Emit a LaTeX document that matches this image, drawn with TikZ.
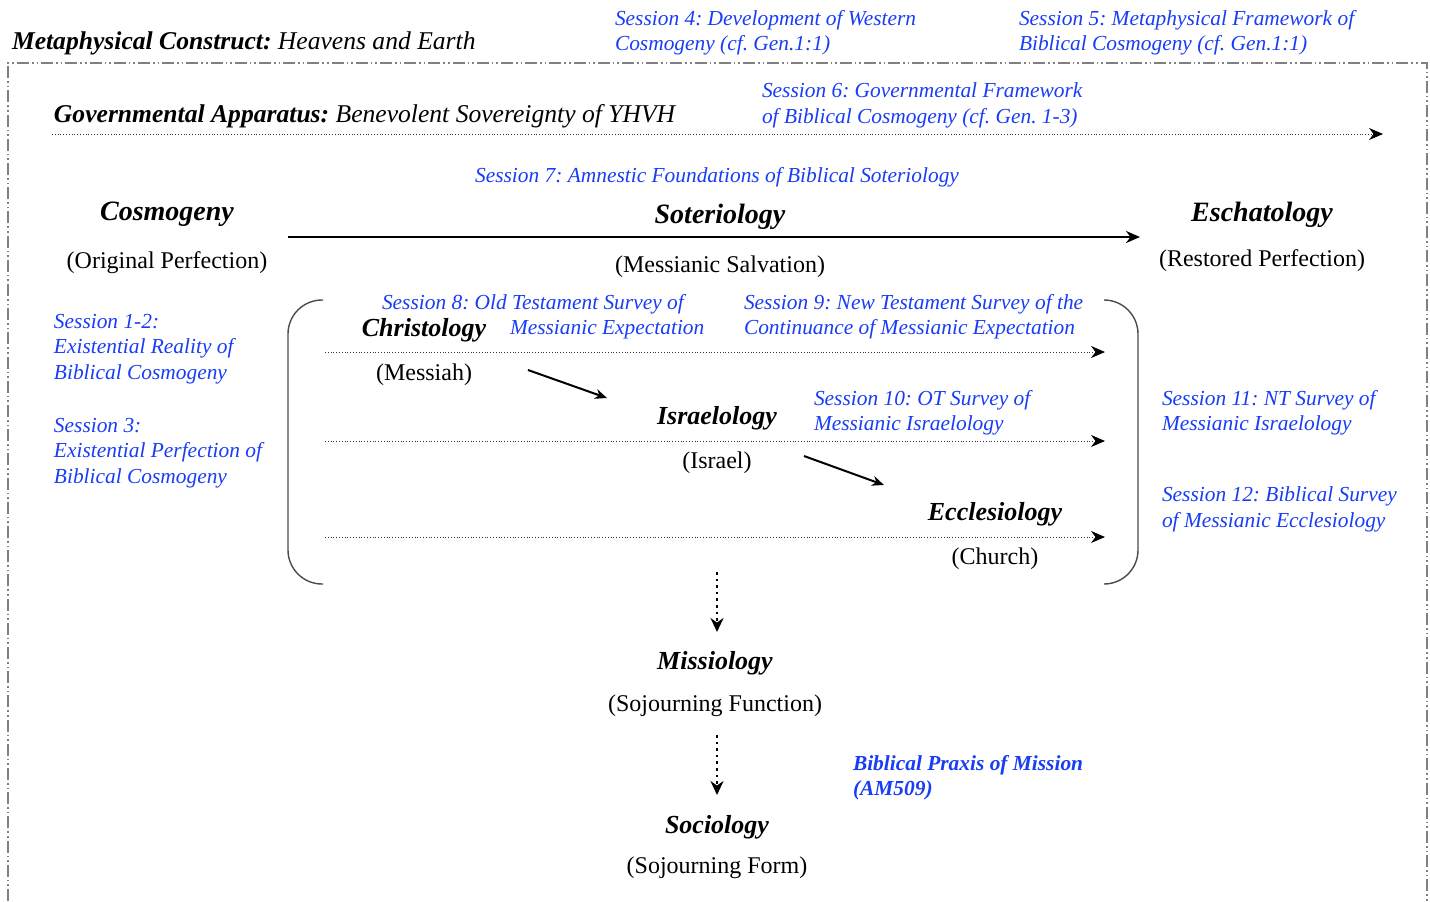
\documentclass[tikz,border=0pt]{standalone}
\usepackage{fontspec}
\setmainfont{Liberation Serif}
\usetikzlibrary{positioning,arrows.meta}
\definecolor{sessblue}{RGB}{25,60,245}
\frenchspacing
\tikzset{every node/.style={inner sep=0pt, outer sep=1pt}}
\tikzset{head/.style={font=\fontsize{14}{16}\selectfont\bfseries\itshape, yshift=-1.2pt}}
\tikzset{subhead/.style={font=\fontsize{13}{15}\selectfont\bfseries\itshape, yshift=-1.2pt}}
\tikzset{gloss/.style={font=\fontsize{12}{14}\selectfont}}
\tikzset{title/.style={font=\fontsize{12.8}{15}\selectfont\itshape, anchor=west, yshift=-1pt}}
\tikzset{sess/.style={font=\fontsize{10.7}{12.8}\selectfont\itshape, text=sessblue, align=left, anchor=north west}}
\tikzset{track/.style={densely dotted, gray!40!black, -{Stealth[length=7pt,width=6pt,black]}}}
\tikzset{drop/.style={line width=1.3pt, dash pattern=on 1.3pt off 2pt, -{Stealth[length=7pt,width=6.5pt]}}}
\tikzset{bracket/.style={gray!60!black, line width=0.7pt, rounded corners=17pt}}
\tikzset{frame/.style={gray, line width=0.6pt, dash pattern=on 6pt off 1.5pt on 0.8pt off 1.5pt on 0.8pt off 1.5pt}}

\begin{document}
\begin{tikzpicture}[x=0.5pt, y=-0.5pt, node distance = 22pt]
  \useasboundingbox (0,0) rectangle (1430,901);
  \draw[frame] (8,901) -- (8,63) -- (1427,63) -- (1427,901);

  \node (meta) [title] at (10,41) {\textbf{Metaphysical Construct:} Heavens and Earth};
  \node (s4) [sess] at (613,8) {Session 4: Development of Western\\Cosmogeny (cf. Gen.1:1)};
  \node (s5) [sess] at (1017,8) {Session 5: Metaphysical Framework of\\Biblical Cosmogeny (cf. Gen.1:1)};

  \node (gov) [title] at (52,114) {\textbf{Governmental Apparatus:} Benevolent Sovereignty of YHVH};
  \node (s6) [sess] at (760,81) {Session 6: Governmental Framework\\of Biblical Cosmogeny (cf. Gen. 1-3)};
  \coordinate (g1) at (52,134);
  \coordinate (g2) at (1383,134);
  \draw[track] (g1) -- (g2);

  \node (s7) [sess, anchor=center] at (717,177) {Session 7: Amnestic Foundations of Biblical Soteriology};
  \node (cos) [head] at (167,212) {Cosmogeny};
  \node (cosg) [gloss, below of = cos, node distance = 24pt] {(Original Perfection)};
  \node (sot) [head] at (720,214) {Soteriology};
  \node (sotg) [gloss, below of = sot, node distance = 25pt] {(Messianic Salvation)};
  \node (esc) [head] at (1262,212) {Eschatology};
  \node (escg) [gloss, below of = esc, node distance = 23pt] {(Restored Perfection)};
  \coordinate (m1) at (288,237);
  \coordinate (m2) at (1140,237);
  \draw[line width=1.2pt, -{Stealth[length=7pt,width=6pt]}] (m1) -- (m2);

  \node (s12) [sess] at (52,312) {Session 1-2:\\Existential Reality of\\Biblical Cosmogeny};
  \node (s3) [sess] at (52,416) {Session 3:\\Existential Perfection of\\Biblical Cosmogeny};

  \draw[bracket] (323,300) -- (288,300) -- (288,584) -- (323,584);
  \draw[bracket] (1104,300) -- (1138,300) -- (1138,584) -- (1104,584);

  \node (s8a) [sess] at (380,292) {Session 8: Old Testament Survey of};
  \node (s8b) [sess] at (508,318) {Messianic Expectation};
  \node (s9) [sess] at (742,292) {Session 9: New Testament Survey of the\\Continuance of Messianic Expectation};
  \node (chr) [subhead] at (424,328) {Christology};
  \node (chrg) [gloss] [below of = chr] {(Messiah)};
  \coordinate (c1) at (325,352);
  \coordinate (c2) at (1105,352);
  \draw[track] (c1) -- (c2);

  \node (isr) [subhead] at (717,416) {Israelology};
  \node (isrg) [gloss] [below of = isr] {(Israel)};
  \node (s10) [sess] at (812,388) {Session 10: OT Survey of\\Messianic Israelology};
  \coordinate (i1) at (325,441);
  \coordinate (i2) at (1105,441);
  \draw[track] (i1) -- (i2);

  \node (ecc) [subhead] at (995,512) {Ecclesiology};
  \node (eccg) [gloss] [below of = ecc] {(Church)};
  \coordinate (e1) at (325,537);
  \coordinate (e2) at (1105,537);
  \draw[track] (e1) -- (e2);

  \coordinate (d1) at (528,370);
  \coordinate (d2) at (607,398);
  \draw[line width=1pt, -{Stealth[length=6pt,width=5pt]}] (d1) -- (d2);
  \coordinate (d3) at (804,456);
  \coordinate (d4) at (884,485);
  \draw[line width=1pt, -{Stealth[length=6pt,width=5pt]}] (d3) -- (d4);

  \node (s11) [sess] at (1160,388) {Session 11: NT Survey of\\Messianic Israelology};
  \node (s12b) [sess] at (1160,485) {Session 12: Biblical Survey\\of Messianic Ecclesiology};

  \node (mis) [subhead] at (715,661) {Missiology};
  \node (misg) [gloss] [below of = mis, node distance = 21pt] {(Sojourning Function)};
  \node (soc) [subhead] at (717,825) {Sociology};
  \node (socg) [gloss] [below of = soc, node distance = 20pt] {(Sojourning Form)};
  \coordinate (v1) at (717,572);
  \coordinate (v2) at (717,632);
  \draw[drop] (v1) -- (v2);
  \coordinate (v3) at (717,735);
  \coordinate (v4) at (717,795);
  \draw[drop] (v3) -- (v4);

  \node (prax) [sess, font=\fontsize{10.7}{12.8}\selectfont\bfseries\itshape] at (851,753) {Biblical Praxis of Mission\\(AM509)};
\end{tikzpicture}
\end{document}
